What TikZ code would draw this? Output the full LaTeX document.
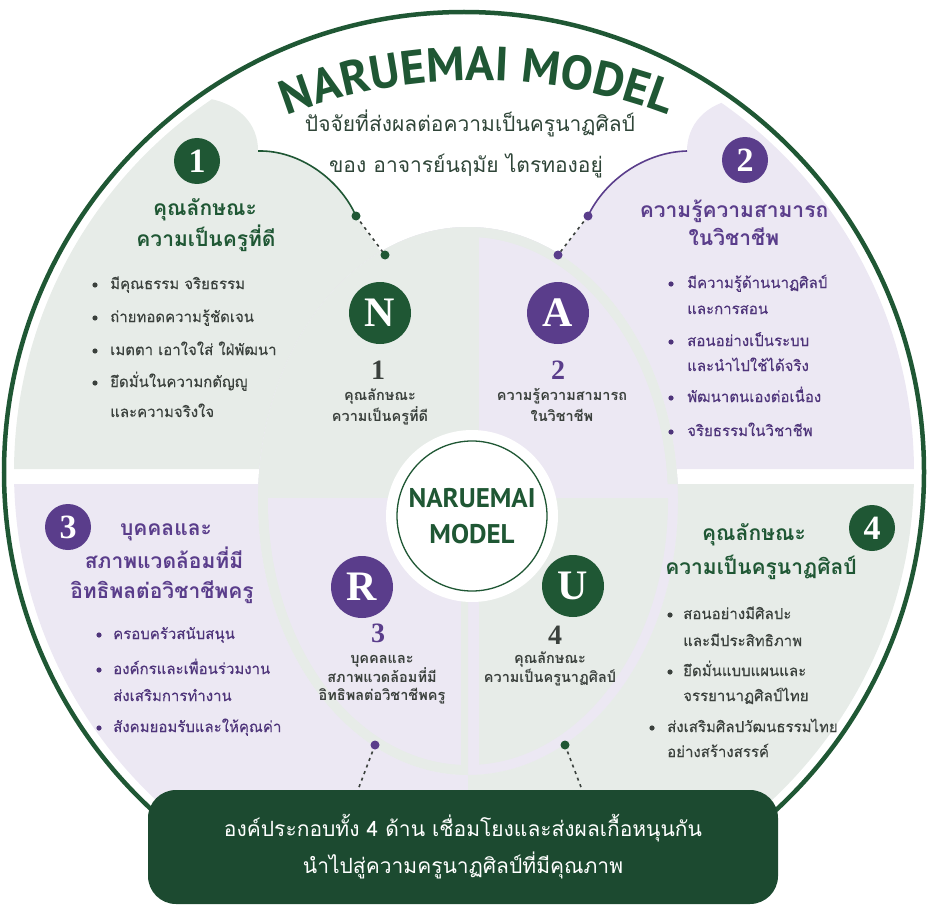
\documentclass[tikz,border=0pt]{standalone}
\usepackage{fontspec}
\setmainfont{Loma}[Script=Thai]
\newfontfamily\bodyfont{Loma}[Script=Thai, FakeBold=0.3]
\newfontfamily\titlefont{PT Sans}
\newfontfamily\badgefont{Liberation Serif}
\usetikzlibrary{decorations.text}
\definecolor{dkgreen}{HTML}{1F5734}
\definecolor{bannergreen}{HTML}{1C4A30}
\definecolor{dkpurple}{HTML}{5A3D8B}
\definecolor{ltgreen}{HTML}{E7ECE8}
\definecolor{ltpurple}{HTML}{ECE8F3}
\definecolor{bodygray}{HTML}{3A403C}
\definecolor{bodypurple}{HTML}{4E347A}
\definecolor{subgray}{HTML}{2F4538}
\newcommand{\fs}[1]{\fontsize{#1}{#1}\selectfont}

\begin{document}
\begin{tikzpicture}[x=1pt, y=-1pt,
    every node/.style={inner sep=0pt},
    badge/.style={circle, minimum size=46, text=white, font=\badgefont\bfseries\fs{34}},
    letterbadge/.style={circle, minimum size=62, text=white, font=\badgefont\bfseries\fs{42}},
    numlabel/.style={font=\badgefont\bfseries\fs{28}},
    head/.style={font=\bfseries\fs{21}, text height=16, text depth=5},
    item/.style={anchor=west, font=\bodyfont\fs{15}, text height=12, text depth=4},
    small/.style={font=\bfseries\fs{14.5}, text height=10, text depth=4},
    link/.style={line width=1.6},
    dotlink/.style={line width=1.6, bodygray, dash pattern=on 3pt off 4pt}]
  \useasboundingbox (0,0) rectangle (928,904);
  % outer fields
  \begin{scope}
    \clip (464,472) circle (450);
    \fill[ltgreen, even odd rule] (0,469) -- (0,0) -- (205,0) -- (205,98)
      .. controls (240,103) and (258,125) .. (258,150)
      .. controls (300,150) and (340,180) .. (356,216)
      -- (400,280) -- (468,300) -- (468,469) -- cycle
      (468,501) ellipse (210 and 274);
    \fill[ltpurple, even odd rule] (928,469) -- (928,0) -- (740,0) -- (740,98)
      .. controls (705,103) and (687,125) .. (687,151)
      .. controls (645,152) and (605,180) .. (588,216)
      -- (540,280) -- (468,300) -- (468,469) -- cycle
      (468,501) ellipse (210 and 274);
    \fill[ltpurple, even odd rule] (0,484) rectangle (468,800) (468,501) ellipse (210 and 274);
    \fill[ltgreen, even odd rule] (468,484) rectangle (928,800) (468,501) ellipse (210 and 274);
  \end{scope}
  % inner fields
  \begin{scope}
    \clip (468,501) ellipse (200 and 264);
    \fill[ltgreen] (0,0) rectangle (462,488);
    \fill[ltpurple] (479,0) rectangle (928,488);
    \fill[ltpurple] (0,498) rectangle (461,904);
    \fill[ltgreen] (479,498) rectangle (928,904);
  \end{scope}
  \begin{scope}
    \clip (0,0) rectangle (928,850);
    \draw[dkgreen, line width=4.5] (464,472) circle (460);
  \end{scope}
  \node[circle, fill=white, minimum size=172] (ring) at (472,516) {};
  \node[circle, draw=dkgreen, line width=1.3, fill=white, minimum size=150, align=center,
    text=dkgreen, font=\titlefont\bfseries\fontsize{27}{36}\selectfont] (core) at (472,516) {NARUEMAI\\MODEL};

  \path[decorate, decoration={text along path, text align=center,
    text={|\titlefont\bfseries\fs{48}\color{dkgreen}|NARUEMAI MODEL}}]
    (261,126) .. controls (398,65) and (556,65) .. (693,126);
  \node[font=\fs{21}, text=subgray, text height=15, text depth=5] (sub1) at (470,127) {ปัจจัยที่ส่งผลต่อความเป็นครูนาฏศิลป์};
  \node[font=\fs{21}, text=subgray, text height=15, text depth=5] (sub2) at (466,167) {ของ อาจารย์นฤมัย ไตรทองอยู่};

  % links
  \coordinate (k1a) at (258,151);
  \coordinate (k1b) at (356,216);
  \coordinate (k1c) at (385,255);
  \draw[link, dkgreen] (k1a) .. controls (300,150) and (340,180) .. (k1b);
  \draw[dotlink] (k1b) -- (k1c);
  \fill[dkgreen] (k1b) circle (4.5) (k1c) circle (4.5);
  \coordinate (k2a) at (687,151);
  \coordinate (k2b) at (588,216);
  \coordinate (k2c) at (558,255);
  \draw[link, dkpurple] (k2a) .. controls (645,152) and (605,180) .. (k2b);
  \draw[dotlink] (k2b) -- (k2c);
  \fill[dkpurple] (k2b) circle (4.5) (k2c) circle (4.5);
  \coordinate (k3a) at (375,745);
  \coordinate (k3b) at (356,795);
  \draw[dotlink] (k3a) -- (k3b);
  \fill[dkpurple] (k3a) circle (4.5);
  \coordinate (k4a) at (565,745);
  \coordinate (k4b) at (584,795);
  \draw[dotlink] (k4a) -- (k4b);
  \fill[dkgreen] (k4a) circle (4.5);

  % field 1
  \node[badge, fill=dkgreen] (b1) at (197,161) {1};
  \node[head, text=dkgreen] (h1a) at (205,210) {คุณลักษณะ};
  \node[head, text=dkgreen] (h1b) at (206,241) {ความเป็นครูที่ดี};
  \foreach \y/\t in {285/มีคุณธรรม จริยธรรม, 318/ถ่ายทอดความรู้ชัดเจน, 351/เมตตา เอาใจใส่ ใฝ่พัฒนา, 383/ยึดมั่นในความกตัญญู}
    {\fill[bodygray] (95,\y) circle (2.6); \node[item, text=bodygray] (q1-\y) at (110,\y) {\t};}
  \node[item, text=bodygray] (q1-413) at (110,413) {และความจริงใจ};

  % field 2
  \node[badge, fill=dkpurple] (b2) at (745,160) {2};
  \node[head, text=dkpurple] (h2a) at (734,212) {ความรู้ความสามารถ};
  \node[head, text=dkpurple] (h2b) at (734,240) {ในวิชาชีพ};
  \foreach \y/\t in {284/มีความรู้ด้านนาฏศิลป์, 342/สอนอย่างเป็นระบบ, 398/พัฒนาตนเองต่อเนื่อง, 432/จริยธรรมในวิชาชีพ}
    {\fill[bodypurple] (671,\y) circle (2.6); \node[item, text=bodypurple] (q2-\y) at (687,\y) {\t};}
  \node[item, text=bodypurple] (q2-310) at (687,310) {และการสอน};
  \node[item, text=bodypurple] (q2-367) at (687,367) {และนำไปใช้ได้จริง};

  % field 3
  \node[badge, fill=dkpurple] (b3) at (68,527) {3};
  \node[head, text=dkpurple] (h3a) at (166,530) {บุคคลและ};
  \node[head, text=dkpurple] (h3b) at (164,563) {สภาพแวดล้อมที่มี};
  \node[head, text=dkpurple] (h3c) at (162,593) {อิทธิพลต่อวิชาชีพครู};
  \foreach \y/\t in {635/ครอบครัวสนับสนุน, 670/องค์กรและเพื่อนร่วมงาน, 728/สังคมยอมรับและให้คุณค่า}
    {\fill[bodypurple] (99,\y) circle (2.6); \node[item, text=bodypurple] (q3-\y) at (113,\y) {\t};}
  \node[item, text=bodypurple] (q3-697) at (113,697) {ส่งเสริมการทำงาน};

  % field 4
  \node[badge, fill=dkgreen] (b4) at (872,528) {4};
  \node[head, text=dkgreen] (h4a) at (754,535) {คุณลักษณะ};
  \node[head, text=dkgreen] (h4b) at (761,569) {ความเป็นครูนาฏศิลป์};
  \foreach \y/\t in {615/สอนอย่างมีศิลปะ, 672/ยึดมั่นแบบแผนและ}
    {\fill[bodygray] (670,\y) circle (2.6); \node[item, text=bodygray] (q4-\y) at (683,\y) {\t};}
  \node[item, text=bodygray] (q4-642) at (683,642) {และมีประสิทธิภาพ};
  \node[item, text=bodygray] (q4-697) at (683,697) {จรรยานาฏศิลป์ไทย};
  \fill[bodygray] (652,728) circle (2.6);
  \node[item, text=bodygray] (q4-728) at (667,728) {ส่งเสริมศิลปวัฒนธรรมไทย};
  \node[item, text=bodygray] (q4-753) at (667,753) {อย่างสร้างสรรค์};

  % inner fields
  \node[letterbadge, fill=dkgreen] (lN) at (380,313) {N};
  \node[numlabel, text=bodygray] (n1) at (378,370) {1};
  \node[small, text=bodygray] (s1a) at (380,397) {คุณลักษณะ};
  \node[small, text=bodygray] (s1b) at (380,418) {ความเป็นครูที่ดี};
  \node[letterbadge, fill=dkpurple] (lA) at (558,313) {A};
  \node[numlabel, text=dkpurple] (n2) at (558,370) {2};
  \node[small, text=bodygray] (s2a) at (562,397) {ความรู้ความสามารถ};
  \node[small, text=bodygray] (s2b) at (562,418) {ในวิชาชีพ};
  \node[letterbadge, fill=dkpurple] (lR) at (362,587) {R};
  \node[numlabel, text=dkpurple] (n3) at (378,633) {3};
  \node[small, text=bodygray] (s3a) at (382,660) {บุคคลและ};
  \node[small, text=bodygray] (s3b) at (382,679) {สภาพแวดล้อมที่มี};
  \node[small, text=bodygray] (s3c) at (382,697) {อิทธิพลต่อวิชาชีพครู};
  \node[letterbadge, fill=dkgreen] (lU) at (573,586) {U};
  \node[numlabel, text=bodygray] (n4) at (555,635) {4};
  \node[small, text=bodygray] (s4a) at (550,660) {คุณลักษณะ};
  \node[small, text=bodygray] (s4b) at (550,679) {ความเป็นครูนาฏศิลป์};

  % banner
  \node[fill=bannergreen, rounded corners=28, minimum width=630, minimum height=114,
    align=center, text=white, font=\fontsize{21}{37}\selectfont] (banner) at (463,847)
    {องค์ประกอบทั้ง 4 ด้าน เชื่อมโยงและส่งผลเกื้อหนุนกัน\\นำไปสู่ความครูนาฏศิลป์ที่มีคุณภาพ};
\end{tikzpicture}
\end{document}
